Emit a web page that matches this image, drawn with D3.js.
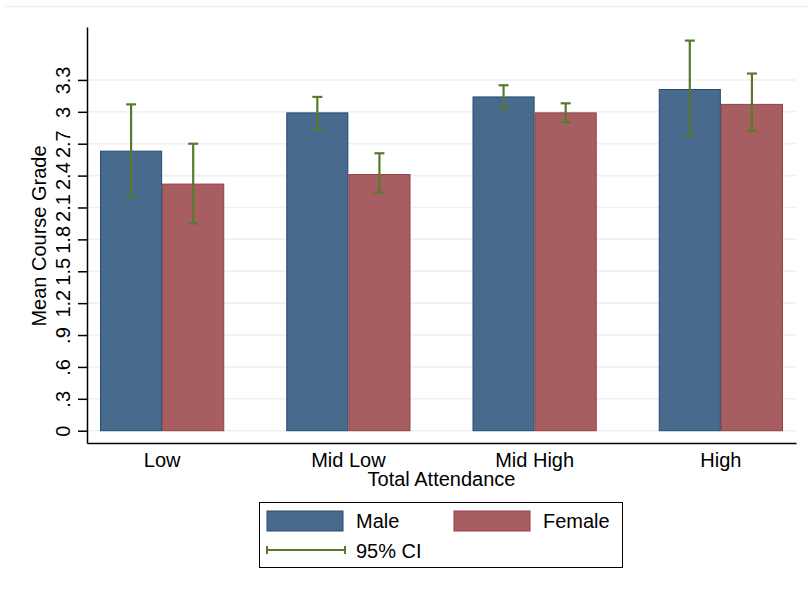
<!DOCTYPE html>
<html>
<head>
<meta charset="utf-8">
<script src="https://cdn.jsdelivr.net/npm/d3@7"></script>
<style>
  body { margin: 0; background: #fff; }
  text { font-family: "Liberation Sans", Arial, sans-serif; fill: #000; }
</style>
</head>
<body>
<div id="chart"></div>
<script>
// data
var categories = ['Low', 'Mid Low', 'Mid High', 'High'];
var series = ['Male', 'Female'];
var maleMean = [2.63, 2.99, 3.14, 3.21];
var femaleMean = [2.32, 2.41, 2.99, 3.07];
var maleLo = [2.20, 2.84, 3.03, 2.78];
var maleHi = [3.07, 3.14, 3.25, 3.67];
var femaleLo = [1.95, 2.24, 2.90, 2.82];
var femaleHi = [2.70, 2.61, 3.08, 3.36];
var yTicks = [0, 0.3, 0.6, 0.9, 1.2, 1.5, 1.8, 2.1, 2.4, 2.7, 3, 3.3];
var yTickLabels = ['0', '.3', '.6', '.9', '1.2', '1.5', '1.8', '2.1', '2.4', '2.7', '3', '3.3'];

var W = 809, H = 589;
var colors = { Male: '#486a8c', Female: '#a65e61' };
var strokes = { Male: '#244c72', Female: '#993c46' };
var ciColor = '#587a2e';
var fs = '20px';

var svg = d3.select('#chart').append('svg')
    .attr('width', W)
    .attr('height', H);

// faint outer border line along the top
svg.append('line')
    .attr('x1', 5).attr('y1', 6.5).attr('x2', W).attr('y2', 6.5)
    .style('stroke', '#eaf2f3').style('stroke-width', '1.5px');

var x = d3.scaleBand()
    .domain(categories)
    .range([87, 796])
    .paddingInner(0.333)
    .paddingOuter(0.07);

var xs = d3.scaleBand()
    .domain(series)
    .range([0, x.bandwidth()]);

var y = d3.scaleLinear()
    .domain([-0.1157, 3.798])
    .range([443, 27]);

// gridlines
svg.append('g').selectAll('line')
    .data(yTicks)
    .enter().append('line')
    .attr('x1', 88).attr('x2', 796)
    .attr('y1', function(d) { return y(d); })
    .attr('y2', function(d) { return y(d); })
    .style('stroke', '#eaf2f3')
    .style('stroke-width', '1.6px');

// rows for bars
var rows = [];
categories.forEach(function(c, i) {
    rows.push({ cat: c, s: 'Male', v: maleMean[i], lo: maleLo[i], hi: maleHi[i] });
    rows.push({ cat: c, s: 'Female', v: femaleMean[i], lo: femaleLo[i], hi: femaleHi[i] });
});

svg.append('g').selectAll('rect')
    .data(rows)
    .enter().append('rect')
    .attr('x', function(d) { return x(d.cat) + xs(d.s) + 0.5; })
    .attr('width', xs.bandwidth() - 1)
    .attr('y', function(d) { return y(d.v); })
    .attr('height', function(d) { return y(0) - y(d.v); })
    .style('fill', function(d) { return colors[d.s]; })
    .style('stroke', function(d) { return strokes[d.s]; })
    .style('stroke-width', '1px');

// confidence intervals
var ci = svg.append('g').selectAll('g')
    .data(rows)
    .enter().append('g')
    .attr('transform', function(d) {
        return 'translate(' + (x(d.cat) + xs(d.s) + xs.bandwidth() / 2) + ',0)';
    })
    .style('stroke', ciColor)
    .style('stroke-width', '2.2px');

ci.append('line')
    .attr('x1', 0).attr('x2', 0)
    .attr('y1', function(d) { return y(d.lo); })
    .attr('y2', function(d) { return y(d.hi); });
ci.append('line')
    .attr('x1', -5).attr('x2', 5)
    .attr('y1', function(d) { return y(d.lo); })
    .attr('y2', function(d) { return y(d.lo); });
ci.append('line')
    .attr('x1', -5).attr('x2', 5)
    .attr('y1', function(d) { return y(d.hi); })
    .attr('y2', function(d) { return y(d.hi); });

// y axis
var yAxis = d3.axisLeft(y)
    .tickValues(yTicks)
    .tickFormat(function(d, i) { return yTickLabels[i]; })
    .tickSize(9)
    .tickSizeOuter(0);

var gy = svg.append('g')
    .attr('transform', 'translate(87,0)')
    .call(yAxis);
gy.select('.domain').style('stroke', '#000').style('stroke-width', '1.5px');
gy.selectAll('.tick line').style('stroke', '#000').style('stroke-width', '1.5px');
gy.selectAll('.tick text')
    .attr('x', null).attr('dy', null)
    .attr('transform', 'translate(-17,0) rotate(-90)')
    .attr('text-anchor', 'middle')
    .style('font-size', fs)
    .style('font-family', '"Liberation Sans", Arial, sans-serif')
    .style('fill', '#000');

// x axis
var xAxis = d3.axisBottom(x).tickSize(0).tickSizeOuter(0);
var gx = svg.append('g')
    .attr('transform', 'translate(0,443)')
    .call(xAxis);
gx.select('.domain').style('stroke', '#000').style('stroke-width', '1.5px');
gx.selectAll('.tick text')
    .attr('y', 23.5).attr('dy', null)
    .style('font-size', fs)
    .style('font-family', '"Liberation Sans", Arial, sans-serif')
    .style('fill', '#000');

// axis titles
svg.append('text')
    .attr('x', 441.5).attr('y', 486)
    .attr('text-anchor', 'middle')
    .style('font-size', fs)
    .text('Total Attendance');

svg.append('text')
    .attr('transform', 'translate(46,236) rotate(-90)')
    .attr('text-anchor', 'middle')
    .style('font-size', fs)
    .text('Mean Course Grade');

// legend
var lg = svg.append('g');
lg.append('rect')
    .attr('x', 259.5).attr('y', 502.5).attr('width', 363).attr('height', 65)
    .style('fill', '#fff').style('stroke', '#000').style('stroke-width', '1px');

var legendItems = [
    { s: 'Male', x: 267, tx: 356 },
    { s: 'Female', x: 454, tx: 543 }
];
legendItems.forEach(function(it) {
    lg.append('rect')
        .attr('x', it.x).attr('y', 511).attr('width', 76).attr('height', 20)
        .style('fill', colors[it.s]).style('stroke', strokes[it.s]).style('stroke-width', '1px');
    lg.append('text')
        .attr('x', it.tx).attr('y', 528)
        .style('font-size', fs)
        .text(it.s);
});

lg.append('line')
    .attr('x1', 267).attr('x2', 345).attr('y1', 550).attr('y2', 550)
    .style('stroke', ciColor).style('stroke-width', '2px');
[267, 345].forEach(function(px) {
    lg.append('line')
        .attr('x1', px).attr('x2', px).attr('y1', 546).attr('y2', 554)
        .style('stroke', ciColor).style('stroke-width', '2px');
});
lg.append('text')
    .attr('x', 356).attr('y', 557.5)
    .style('font-size', fs)
    .text('95% CI');
</script>
</body>
</html>
